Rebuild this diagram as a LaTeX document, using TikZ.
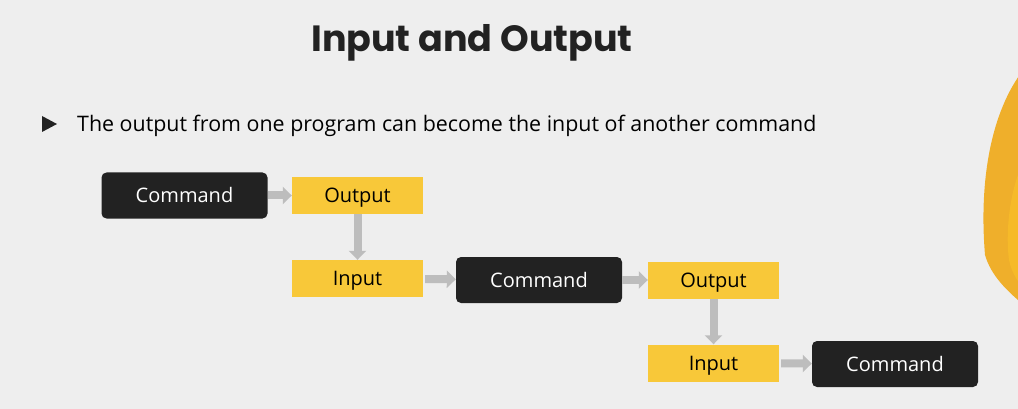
\documentclass[tikz,border=0pt]{standalone}
\usepackage{fontspec}
\setmainfont{Open Sans}
\newfontfamily\titlefont{Poppins}
\usetikzlibrary{arrows.meta}
\definecolor{slidebg}{HTML}{EEEEEE}
\definecolor{cmdgray}{HTML}{222222}
\definecolor{ioyellow}{HTML}{F8C839}
\definecolor{flowgray}{HTML}{BDBDBD}
\definecolor{blobdark}{HTML}{EFAF2B}
\definecolor{bloblight}{HTML}{F6BA29}
\begin{document}
\begin{tikzpicture}[x=1pt,y=-1pt]
\tikzstyle{cmd}=[fill=cmdgray,text=white,rounded corners=5pt,minimum width=166pt,minimum height=46pt,text height=14.5pt,text depth=0pt,font=\fontsize{20}{24}\selectfont]
\tikzstyle{io}=[fill=ioyellow,text=black,minimum width=131pt,minimum height=37pt,text height=14.5pt,text depth=0pt,font=\fontsize{20}{24}\selectfont]
\tikzstyle{flow}=[draw=flowgray,line width=8pt,-{Triangle[width=17pt,length=9pt]}]
\fill[slidebg] (0,0) rectangle (1018,409);
\useasboundingbox (0,0) rectangle (1018,409);
% blob on the right
\begin{scope}
\clip (0,0) rectangle (1018,409);
\fill[blobdark] (1030,62) .. controls (995,100) and (978,170) .. (985,255) .. controls (991,275) and (1005,290) .. (1030,310) -- cycle;
\fill[bloblight] (1030,150) .. controls (1010,180) and (1005,230) .. (1009,260) .. controls (1012,275) and (1020,285) .. (1030,295) -- cycle;
\end{scope}
\node[anchor=base,font=\titlefont\bfseries\fontsize{36.5}{42}\selectfont,text=cmdgray] (title) at (472,52) {Input and Output};
\fill[cmdgray] (42,116) -- (57,124) -- (42,132) -- cycle;
\node[anchor=base west,inner sep=0pt,font=\fontsize{21.4}{26}\selectfont] (point) at (77,132) {The output from one program can become the input of another command};
\node[cmd] (cmd1) at (184.5,195.5) {Command};
\node[io] (out1) at (357.5,195.5) {Output};
\node[io] (in1) at (357.5,278.5) {Input};
\node[cmd] (cmd2) at (539,280) {Command};
\node[io] (out2) at (713.5,280) {Output};
\node[io] (in2) at (713.5,363) {Input};
\node[cmd] (cmd3) at (895,364) {Command};
\draw[flow] (cmd1) -- (out1);
\draw[flow] (out1) -- (in1);
\draw[flow,shorten <=2pt] (in1) -- (cmd2);
\draw[flow] (cmd2) -- (out2);
\draw[flow] (out2) -- (in2);
\draw[flow,shorten <=2pt] (in2) -- (cmd3);
\end{tikzpicture}
\end{document}
